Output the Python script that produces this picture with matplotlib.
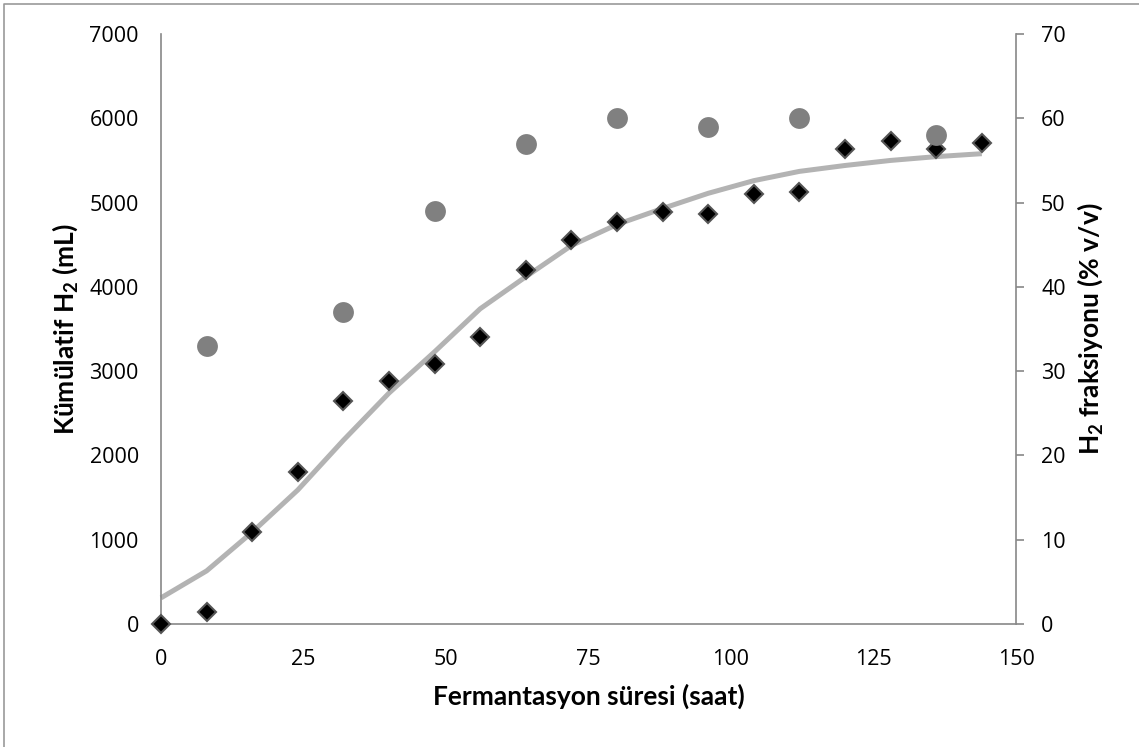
import matplotlib
matplotlib.use("Agg")
import matplotlib.pyplot as plt
from matplotlib.lines import Line2D

plt.rcParams["mathtext.fontset"] = "custom"
plt.rcParams["mathtext.rm"] = "Lato:bold"
plt.rcParams["mathtext.it"] = "Lato:bold"
plt.rcParams["mathtext.default"] = "rm"

# fermentation time (h)
time_h = [0, 8, 16, 24, 32, 40, 48, 56, 64, 72, 80, 88, 96, 104, 112, 120, 128, 136, 144]
# cumulative H2 (mL), measured
h2_cum = [0, 140, 1090, 1805, 2640, 2885, 3085, 3410, 4200, 4560, 4770, 4885, 4860,
          5100, 5125, 5635, 5730, 5640, 5710]
# fitted model curve (mL)
h2_fit = [310, 630, 1090, 1590, 2180, 2740, 3230, 3740, 4120, 4490, 4740, 4930, 5110,
          5260, 5370, 5440, 5500, 5545, 5580]
# H2 fraction (% v/v)
frac_time = [8, 32, 48, 64, 80, 96, 112, 136]
h2_frac = [33, 37, 49, 57, 60, 59, 60, 58]

W, H = 1139, 747
fig = plt.figure(figsize=(W / 100, H / 100), dpi=100)
ax = fig.add_axes([161 / W, 1 - 624 / H, (1016 - 161) / W, (624 - 34) / H])
ax2 = ax.twinx()

axis_grey = "#888888"
tick_font = dict(family="Open Sans", size=15.5)
label_font = dict(family="Lato", weight="bold", size=19)

ax.plot(time_h, h2_fit, color="#b3b3b3", lw=3.6, solid_capstyle="butt", zorder=2, clip_on=False)
ax.plot(time_h, h2_cum, "D", ms=9.5, mfc="black", mec="#555555", mew=1.5, zorder=3, clip_on=False)
ax2.plot(frac_time, h2_frac, "o", ms=15, mfc="#808080", mec="#808080", mew=0, clip_on=False)

ax.set_xlim(0, 150)
ax.set_ylim(0, 7000)
ax2.set_ylim(0, 70)
ax.set_xticks(range(0, 151, 25))
ax.set_yticks(range(0, 7001, 1000))
ax2.set_yticks(range(0, 71, 10))

for a in (ax, ax2):
    a.spines["top"].set_visible(False)
    for s in a.spines.values():
        s.set_color(axis_grey)
        s.set_linewidth(1.2)
ax.spines["right"].set_visible(False)
ax2.spines["left"].set_visible(False)
ax2.spines["bottom"].set_visible(False)

ax.tick_params(axis="x", length=0, pad=18)
ax.tick_params(axis="y", length=0, pad=16)
ax2.tick_params(axis="y", direction="out", length=6, width=1.2, color=axis_grey, pad=12)
for lab in ax.get_xticklabels() + ax.get_yticklabels() + ax2.get_yticklabels():
    lab.set_fontfamily(tick_font["family"])
    lab.set_fontsize(tick_font["size"])

ax.set_xlabel("Fermantasyon süresi (saat)", labelpad=10, **label_font)
ax.set_ylabel("Kümülatif H$_2$ (mL)", labelpad=7, **label_font)
ax2.set_ylabel("H$_2$ fraksiyonu (% v/v)", labelpad=7, **label_font)

# outer frame of the chart area (only top and left edges are visible)
frame_x = [4 / W, 4 / W, 1.0]
frame_y = [0.0, 1 - 4 / H, 1 - 4 / H]
fig.lines.append(Line2D(frame_x, frame_y, transform=fig.transFigure, color="#999999", lw=1.2))

fig.savefig("out.png", dpi=100)
